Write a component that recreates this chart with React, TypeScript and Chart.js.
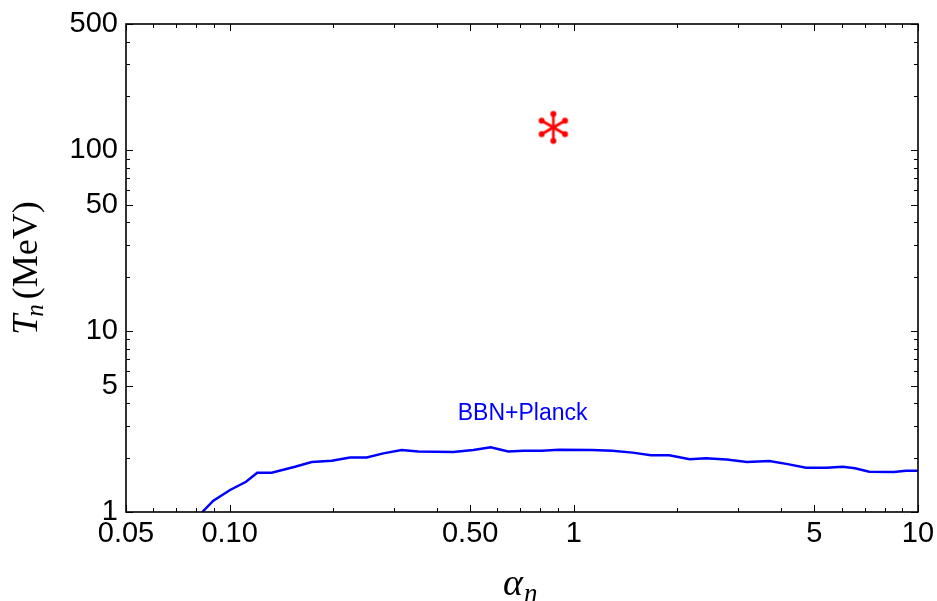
import React, { useEffect, useRef } from "react";
import { Chart, registerables } from "chart.js";

Chart.register(...registerables);

// ---- data ----
const alphaValues = [0.0833, 0.0897, 0.1003, 0.1116, 0.1203, 0.1325, 0.1549, 0.1732, 0.198, 0.2238, 0.2502, 0.2796, 0.316, 0.3533, 0.4467, 0.5105, 0.5735, 0.645, 0.7136, 0.807, 0.906, 1.128, 1.293, 1.482, 1.675, 1.894, 2.171, 2.421, 2.777, 3.184, 3.698, 4.182, 4.727, 5.423, 6.046, 6.561, 7.218, 8.506, 9.228, 10];
const tempValues = [1.0, 1.155, 1.324, 1.47, 1.65, 1.65, 1.78, 1.89, 1.92, 2.0, 2.0, 2.11, 2.2, 2.16, 2.15, 2.2, 2.28, 2.16, 2.18, 2.18, 2.21, 2.2, 2.18, 2.13, 2.06, 2.06, 1.96, 1.98, 1.95, 1.89, 1.915, 1.84, 1.758, 1.758, 1.78, 1.745, 1.67, 1.664, 1.692, 1.692];
const starAlpha = [0.872];
const starTemp = [134];
const curveLabel = "BBN+Planck";
const curveLabelPos = [0.71, 3.48];

const xTicksAll = [0.05, 0.06, 0.07, 0.08, 0.09, 0.1, 0.2, 0.3, 0.4, 0.5, 0.6, 0.7, 0.8, 0.9, 1, 2, 3, 4, 5, 6, 7, 8, 9, 10];
const xMajorValues = [0.05, 0.1, 0.5, 1, 5, 10];
const xMajorLabels = ["0.05", "0.10", "0.50", "1", "5", "10"];
const yTicksAll = [1, 2, 3, 4, 5, 6, 7, 8, 9, 10, 20, 30, 40, 50, 60, 70, 80, 90, 100, 200, 300, 400, 500];
const yMajorValues = [1, 5, 10, 50, 100, 500];
const yMajorLabels = ["1", "5", "10", "50", "100", "500"];

const near = (a: number, b: number) => Math.abs(a - b) / b < 1e-6;
const majorIndex = (v: number, list: number[]) => list.findIndex((m) => near(v, m));

const SANS = "'Liberation Sans', Arial, Helvetica, sans-serif";
const SERIF = "'Liberation Serif', 'Times New Roman', serif";

function makeStar(): HTMLCanvasElement {
  const c = document.createElement("canvas");
  const size = 38;
  c.width = size;
  c.height = size;
  const ctx = c.getContext("2d")!;
  const cx = size / 2;
  const cy = size / 2;
  const r = 13.5;
  ctx.strokeStyle = "#ff0000";
  ctx.fillStyle = "#ff0000";
  ctx.lineCap = "round";
  [90, 30, 150].forEach((deg) => {
    const a = (deg * Math.PI) / 180;
    const ux = Math.cos(a);
    const uy = Math.sin(a);
    ctx.lineWidth = 2.6;
    ctx.beginPath();
    ctx.moveTo(cx - ux * r, cy - uy * r);
    ctx.lineTo(cx + ux * r, cy + uy * r);
    ctx.stroke();
    [1, -1].forEach((s) => {
      ctx.beginPath();
      ctx.arc(cx + s * ux * r, cy + s * uy * r, 3, 0, Math.PI * 2);
      ctx.fill();
    });
  });
  return c;
}

const framePlugin = {
  id: "frameTicks",
  afterDatasetsDraw(chart: any) {
    const { ctx, chartArea } = chart;
    const xs = chart.scales.x;
    const ys = chart.scales.y;
    ctx.save();
    ctx.strokeStyle = "#000";
    ctx.lineWidth = 1;
    xTicksAll.forEach((v) => {
      const px = Math.round(xs.getPixelForValue(v)) + 0.5;
      const len = majorIndex(v, xMajorValues) >= 0 ? 7 : 4;
      ctx.beginPath();
      ctx.moveTo(px, chartArea.bottom);
      ctx.lineTo(px, chartArea.bottom - len);
      ctx.moveTo(px, chartArea.top);
      ctx.lineTo(px, chartArea.top + len);
      ctx.stroke();
    });
    yTicksAll.forEach((v) => {
      const py = Math.round(ys.getPixelForValue(v)) + 0.5;
      const len = majorIndex(v, yMajorValues) >= 0 ? 7 : 4;
      ctx.beginPath();
      ctx.moveTo(chartArea.left, py);
      ctx.lineTo(chartArea.left + len, py);
      ctx.moveTo(chartArea.right, py);
      ctx.lineTo(chartArea.right - len, py);
      ctx.stroke();
    });
    ctx.lineWidth = 1.6;
    ctx.strokeRect(chartArea.left, chartArea.top, chartArea.right - chartArea.left, chartArea.bottom - chartArea.top);

    // curve label
    ctx.fillStyle = "#0000ff";
    ctx.font = `23px ${SANS}`;
    ctx.textAlign = "center";
    ctx.textBaseline = "middle";
    ctx.fillText(curveLabel, xs.getPixelForValue(curveLabelPos[0]), ys.getPixelForValue(curveLabelPos[1]));

    // y title: T_n (MeV)
    ctx.fillStyle = "#000";
    ctx.textAlign = "left";
    ctx.textBaseline = "alphabetic";
    const yMid = (chartArea.top + chartArea.bottom) / 2;
    ctx.translate(37, yMid);
    ctx.rotate(-Math.PI / 2);
    const fT = `italic 36px ${SERIF}`;
    const fSub = `italic 25px ${SERIF}`;
    const fMain = `36px ${SERIF}`;
    ctx.font = fT;
    const wT = ctx.measureText("T").width;
    ctx.font = fSub;
    const wN = ctx.measureText("n").width;
    ctx.font = fMain;
    const wM = ctx.measureText("(MeV)").width;
    const total = wT + wN + 3 + wM;
    let x0 = -total / 2;
    ctx.font = fT;
    ctx.fillText("T", x0, 0);
    x0 += wT - 2;
    ctx.font = fSub;
    ctx.fillText("n", x0, 6);
    x0 += wN + 5;
    ctx.font = fMain;
    ctx.fillText("(MeV)", x0, 0);
    ctx.restore();

    // x title: alpha_n
    ctx.save();
    ctx.fillStyle = "#000";
    ctx.textBaseline = "alphabetic";
    ctx.textAlign = "left";
    ctx.font = `italic 38px ${SERIF}`;
    const wA = ctx.measureText("α").width;
    const xa = 503;
    ctx.fillText("α", xa, 595);
    ctx.font = `italic 27px ${SERIF}`;
    ctx.fillText("n", xa + wA + 1, 602);
    ctx.restore();
  },
};

export default function App() {
  const ref = useRef<HTMLCanvasElement>(null);
  useEffect(() => {
    if (!ref.current) return;
    const star = makeStar();
    const chart = new Chart(ref.current, {
      type: "line",
      data: {
        datasets: [
          {
            label: curveLabel,
            data: alphaValues.map((a, i) => ({ x: a, y: tempValues[i] })),
            borderColor: "#0000ff",
            borderWidth: 2.5,
            pointRadius: 0,
            tension: 0,
            fill: false,
          },
          {
            label: "point",
            data: starAlpha.map((a, i) => ({ x: a, y: starTemp[i] })),
            showLine: false,
            pointStyle: star as any,
            pointRadius: 16,
            borderColor: "#ff0000",
            backgroundColor: "#ff0000",
          },
        ],
      } as any,
      options: {
        responsive: false,
        animation: false,
        events: [],
        layout: { padding: { left: 0, right: 19, top: 24, bottom: 0 } },
        plugins: { legend: { display: false }, tooltip: { enabled: false }, title: { display: false } },
        scales: {
          x: {
            type: "logarithmic",
            position: "bottom",
            min: 0.05,
            max: 10,
            grid: { display: false, drawTicks: false },
            border: { display: false },
            afterBuildTicks: (s: any) => {
              s.ticks = xTicksAll.map((v) => ({ value: v }));
            },
            afterFit: (s: any) => {
              s.height = 89;
              s.paddingLeft = 0;
              s.paddingRight = 0;
            },
            ticks: {
              autoSkip: false,
              maxRotation: 0,
              minRotation: 0,
              padding: 5,
              color: "#000",
              font: { family: SANS, size: 29 },
              callback: (v: any) => {
                const i = majorIndex(Number(v), xMajorValues);
                return i >= 0 ? xMajorLabels[i] : "";
              },
            },
          },
          y: {
            type: "logarithmic",
            position: "left",
            min: 1,
            max: 500,
            grid: { display: false, drawTicks: false },
            border: { display: false },
            afterBuildTicks: (s: any) => {
              s.ticks = yTicksAll.map((v) => ({ value: v }));
            },
            afterFit: (s: any) => {
              s.width = 126;
              s.paddingTop = 0;
              s.paddingBottom = 0;
            },
            ticks: {
              autoSkip: false,
              padding: 8,
              color: "#000",
              font: { family: SANS, size: 29 },
              callback: (v: any) => {
                const i = majorIndex(Number(v), yMajorValues);
                return i >= 0 ? yMajorLabels[i] : "";
              },
            },
          },
        },
      } as any,
      plugins: [framePlugin],
    });
    return () => chart.destroy();
  }, []);
  return (
    <div style={{ position: "absolute", left: 0, top: 0, width: 937, height: 601, background: "#fff" }}>
      <canvas ref={ref} width={937} height={601} style={{ display: "block" }} />
    </div>
  );
}
